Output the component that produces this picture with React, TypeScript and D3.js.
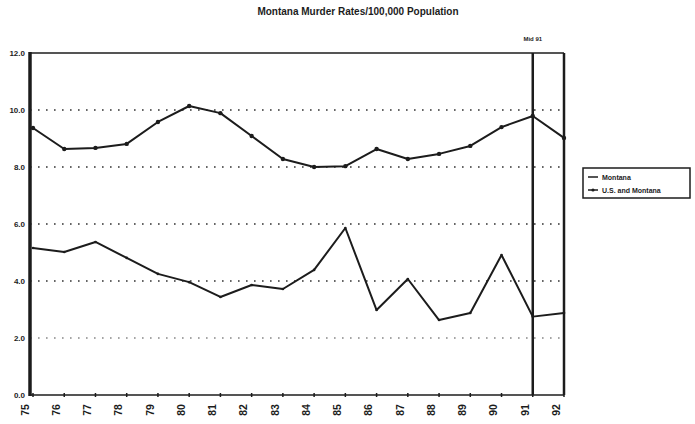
import React from 'react';
import * as d3 from 'd3';

// Years on the x axis and the two series (rate per 100,000)
const years = ['75', '76', '77', '78', '79', '80', '81', '82', '83', '84', '85', '86', '87', '88', '89', '90', '91', '92'];
const usRates = [9.37, 8.63, 8.67, 8.81, 9.58, 10.14, 9.89, 9.09, 8.28, 8.0, 8.03, 8.63, 8.28, 8.46, 8.74, 9.4, 9.79, 9.02];
const montanaRates = [5.16, 5.02, 5.37, 4.81, 4.25, 3.96, 3.44, 3.86, 3.72, 4.39, 5.86, 2.98, 4.07, 2.63, 2.88, 4.91, 2.75, 2.88];
const yTicks = [0, 2, 4, 6, 8, 10, 12];
const markerYear = '91';

const W = 695;
const H = 424;
const left = 30;
const right = 564;
const top = 53;
const bottom = 395;
const ink = '#1c1c1c';

export default function App() {
  const x = d3.scalePoint<string>().domain(years).range([left + 3, right]);
  const y = d3.scaleLinear().domain([0, 12]).range([bottom, top]);

  const line = d3.line<number>()
    .x((_, i) => x(years[i]) as number)
    .y(d => y(d));

  const mx = x(markerYear) as number;

  return (
    <svg width={W} height={H} style={{ position: 'absolute', left: 0, top: 0, background: '#fff' }}
      fontFamily="Liberation Sans, Arial, sans-serif">
      <text x={358} y={15} textAnchor="middle" fontSize={10} fontWeight="bold" fill={ink}>
        Montana Murder Rates/100,000 Population
      </text>

      {/* dotted gridlines */}
      {yTicks.filter(t => t > 0 && t < 12).map(t => (
        <line key={t} x1={left} x2={right} y1={y(t)} y2={y(t)}
          stroke={t === 2 ? '#888' : '#333'} strokeWidth={1.6} strokeDasharray="1.6 6.4" />
      ))}

      {/* frame */}
      <line x1={left} x2={right} y1={top} y2={top} stroke={ink} strokeWidth={1.5} />
      <line x1={right} x2={right} y1={top} y2={bottom} stroke={ink} strokeWidth={2.5} />
      <line x1={left} x2={right} y1={bottom} y2={bottom} stroke={ink} strokeWidth={1.5} />
      <line x1={left} x2={left} y1={top - 1} y2={bottom + 1} stroke={ink} strokeWidth={3.5} />

      {/* vertical marker */}
      <line x1={mx} x2={mx} y1={top} y2={bottom} stroke={ink} strokeWidth={2.5} />
      <text x={mx} y={41} textAnchor="middle" fontSize={6} fontWeight="bold" fill={ink}>Mid 91</text>

      {/* y tick labels */}
      {yTicks.map(t => (
        <text key={t} x={left - 5} y={y(t) + 3} textAnchor="end" fontSize={8} fontWeight="bold" fill={ink}>
          {t.toFixed(1)}
        </text>
      ))}

      {/* x ticks and labels */}
      {years.map(yr => {
        const px = x(yr) as number;
        return (
          <g key={yr}>
            <line x1={px} x2={px} y1={bottom - 2} y2={bottom + 2} stroke={ink} strokeWidth={1.5} />
            <text transform={`translate(${px - 7},${410}) rotate(-90)`} textAnchor="middle"
              dominantBaseline="middle" fontSize={10.5} fontWeight="bold" fill={ink}>{yr}</text>
          </g>
        );
      })}

      {/* series */}
      <path d={line(usRates) || ''} fill="none" stroke={ink} strokeWidth={2} strokeLinejoin="round" />
      {usRates.map((v, i) => (
        <circle key={i} cx={x(years[i]) as number} cy={y(v)} r={2.2} fill={ink} />
      ))}
      <path d={line(montanaRates) || ''} fill="none" stroke={ink} strokeWidth={2} strokeLinejoin="round" />
      {montanaRates.map((v, i) => (
        <circle key={i} cx={x(years[i]) as number} cy={y(v)} r={1.3} fill={ink} />
      ))}

      {/* legend */}
      <rect x={583} y={168} width={107} height={30} fill="#fff" stroke={ink} strokeWidth={1.5} />
      <line x1={588} x2={598} y1={177} y2={177} stroke={ink} strokeWidth={1.5} />
      <text x={602} y={179.5} fontSize={7} fontWeight="bold" fill={ink}>Montana</text>
      <line x1={588} x2={598} y1={190} y2={190} stroke={ink} strokeWidth={1.5} />
      <circle cx={593} cy={190} r={1.6} fill={ink} />
      <text x={602} y={192.5} fontSize={7} fontWeight="bold" fill={ink}>U.S. and Montana</text>
    </svg>
  );
}
